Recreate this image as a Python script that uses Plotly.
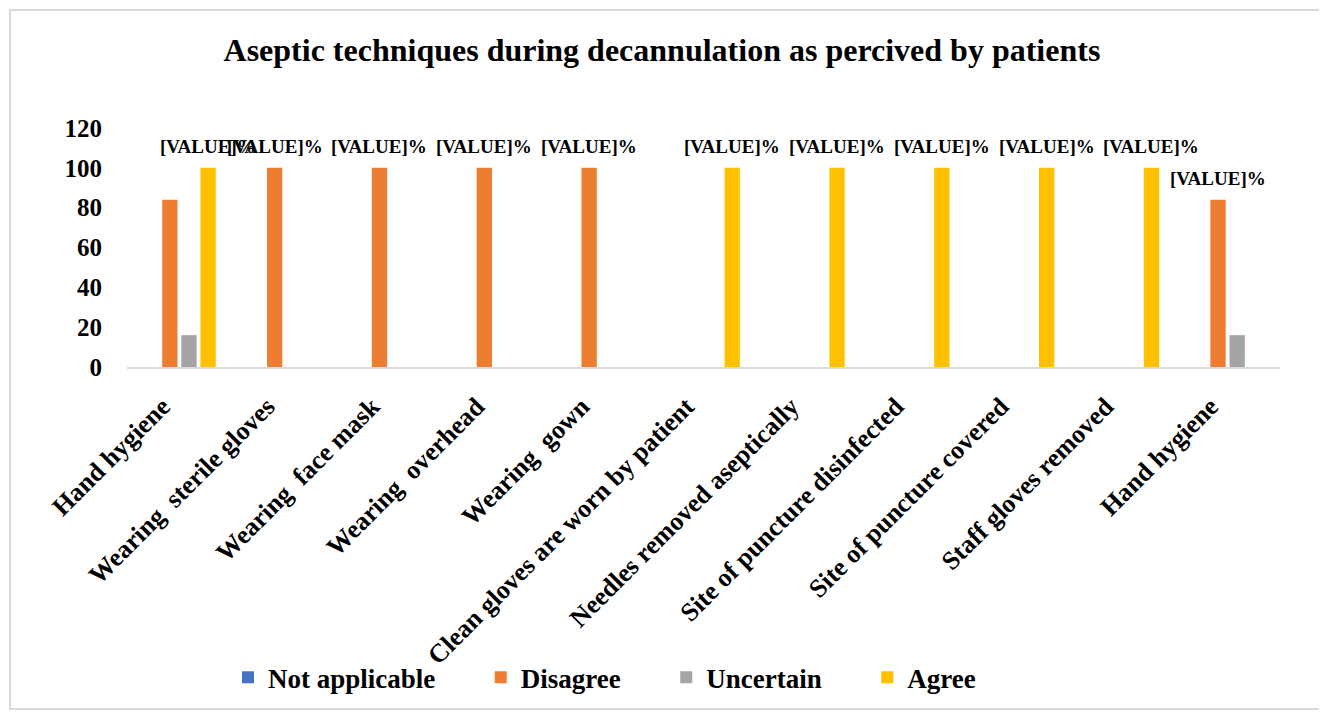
import plotly.graph_objects as go

# Aseptic techniques during decannulation (patients' view)
categories = ['Hand hygiene', 'Wearing  sterile gloves', 'Wearing  face mask',
              'Wearing  overhead', 'Wearing  gown', 'Clean gloves are worn by patient',
              'Needles removed aseptically', 'Site of puncture disinfected',
              'Site of puncture covered', 'Staff gloves removed', 'Hand hygiene']

not_applicable = [0, 0, 0, 0, 0, 0, 0, 0, 0, 0, 0]
disagree = [84, 100, 100, 100, 100, 0, 0, 0, 0, 0, 84]
uncertain = [16, 0, 0, 0, 0, 0, 0, 0, 0, 0, 16]
agree = [100, 0, 0, 0, 0, 100, 100, 100, 100, 100, 0]

# which bars carry the (unfilled) excel data label
disagree_lbl = [False, True, True, True, True, False, False, False, False, False, True]
agree_lbl = [True, False, False, False, False, True, True, True, True, True, False]

series = [
    ('Not applicable', not_applicable, '#4472C4', None),
    ('Disagree', disagree, '#ED7D31', disagree_lbl),
    ('Uncertain', uncertain, '#A5A5A5', None),
    ('Agree', agree, '#FFC000', agree_lbl),
]

FONT = 'Liberation Serif'
BARGAP = 0.27
PAD = '\u00a0' * 6  # spread legend entries like excel does
x = list(range(len(categories)))

fig = go.Figure()
slot = (1 - BARGAP) / len(series)
for k, (name, vals, col, lbl) in enumerate(series):
    fig.add_trace(go.Bar(x=x, y=vals, name=name + PAD, marker_color=col, marker_line_width=0))
    if lbl is None:
        continue
    # data labels sit above the bar centre of this series
    off = -(1 - BARGAP) / 2 + slot * (k + 0.5)
    for i, v in enumerate(vals):
        if lbl[i]:
            fig.add_annotation(x=i + off, y=v, text='[VALUE]%', showarrow=False,
                               yanchor='middle', yshift=21,
                               font=dict(family=FONT, size=19, color='#000000', weight='bold'))

fig.update_layout(
    width=1327, height=713,
    paper_bgcolor='white', plot_bgcolor='white',
    barmode='group', bargap=BARGAP, bargroupgap=0.2,
    margin=dict(l=119, r=55, t=120, b=354),
    font=dict(family=FONT, color='#000000'),
    title=dict(text='Aseptic techniques during decannulation as percived by patients',
               x=0.4928, xanchor='center', y=1 - 42 / 713, yanchor='middle',
               font=dict(family=FONT, size=32, color='#000000', weight='bold')),
    legend=dict(orientation='h', x=0.0876, xanchor='left', y=-1.3, yanchor='middle',
                font=dict(family=FONT, size=27, color='#000000', weight='bold'),
                bgcolor='rgba(0,0,0,0)', itemwidth=30, traceorder='normal'),
    showlegend=True,
)

fig.update_xaxes(
    tickvals=x, ticktext=categories,
    tickangle=-45, tickfont=dict(family=FONT, size=26, color='#000000', weight='bold'),
    showline=True, linecolor='#D9D9D9', linewidth=2, showgrid=False,
    range=[-0.5, len(categories) - 0.5], ticks='', ticklabelstandoff=12, ticklabelshift=-17,
)
fig.update_yaxes(
    range=[0, 120], tickvals=[0, 20, 40, 60, 80, 100, 120],
    tickfont=dict(family=FONT, size=25, color='#000000', weight='bold'),
    showgrid=False, zeroline=False, showline=False, ticks='', ticklabelstandoff=24,
)

# outer chart border
fig.add_shape(type='rect', xref='paper', yref='paper',
              x0=(10 - 127) / 1153, x1=(1320 - 127) / 1153,
              y0=(367 - 709) / 239, y1=(367 - 10) / 239,
              line=dict(color='#D9D9D9', width=2), layer='below')

fig.write_html('out.html')
